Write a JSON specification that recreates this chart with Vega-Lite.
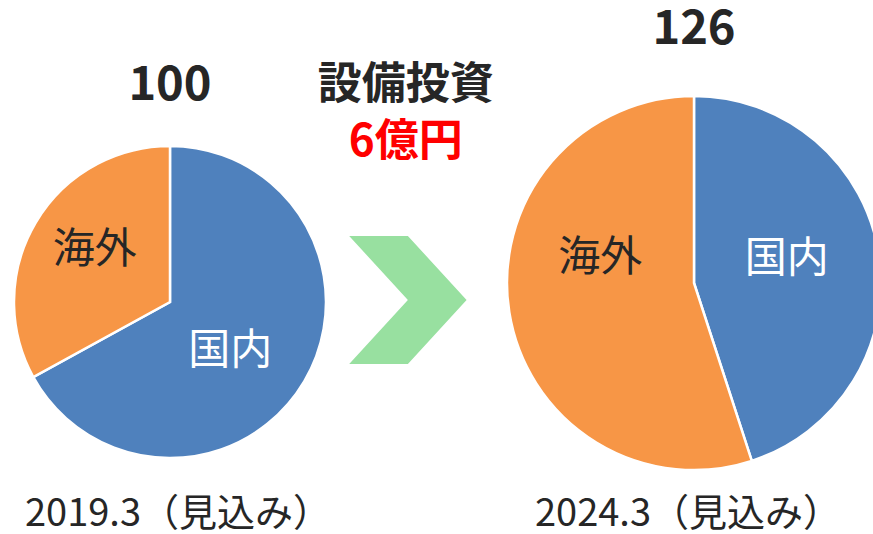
{
  "$schema": "https://vega.github.io/schema/vega-lite/v6.json",
  "width": 873,
  "height": 534,
  "autosize": {"type": "none"},
  "padding": 0,
  "background": "white",
  "config": {"view": {"stroke": null}, "font": "Noto Sans CJK JP"},
  "datasets": {
    "slices": [
      {"fy": 2019.3, "total": 100, "region": "国内", "share": 67},
      {"fy": 2019.3, "total": 100, "region": "海外", "share": 33},
      {"fy": 2024.3, "total": 126, "region": "国内", "share": 45},
      {"fy": 2024.3, "total": 126, "region": "海外", "share": 55}
    ],
    "totals": [
      {"fy": 2019.3, "total": 100, "period": "2019.3（見込み）"},
      {"fy": 2024.3, "total": 126, "period": "2024.3（見込み）"}
    ],
    "invest": [
      {"item": "設備投資", "amount": "6億円"}
    ]
  },
  "layer": [
    {
      "data": {"name": "slices"},
      "encoding": {
        "x": {"field": "fy", "type": "quantitative", "scale": {"domain": [2017.678, 2026.008], "nice": false, "zero": false}, "axis": null},
        "y": {"field": "total", "type": "quantitative", "scale": {"domain": [100, 126], "range": [302, 283], "nice": false, "zero": false}, "axis": null},
        "theta": {"field": "share", "type": "quantitative", "stack": true, "scale": {"domain": [0, 100]}},
        "order": {"field": "region", "type": "ordinal", "sort": "ascending"}
      },
      "layer": [
        {
          "transform": [{"filter": "datum.total === 100"}],
          "mark": {"type": "arc", "stroke": "white", "strokeWidth": 2.5},
          "encoding": {
            "radius": {"field": "total", "type": "quantitative", "scale": {"type": "linear", "domain": [100, 126], "range": [156, 187], "zero": false, "nice": false}},
            "radius2": {"value": 0},
            "color": {"field": "region", "type": "nominal", "scale": {"domain": ["国内", "海外"], "range": ["#4F81BD", "#F79646"]}, "legend": null}
          }
        },
        {
          "transform": [{"filter": "datum.total === 126"}],
          "mark": {"type": "arc", "stroke": "white", "strokeWidth": 2.5},
          "encoding": {
            "radius": {"field": "total", "type": "quantitative", "scale": {"type": "linear", "domain": [100, 126], "range": [156, 187], "zero": false, "nice": false}},
            "radius2": {"value": 0},
            "color": {"field": "region", "type": "nominal", "scale": {"domain": ["国内", "海外"], "range": ["#4F81BD", "#F79646"]}, "legend": null}
          }
        },
        {
          "transform": [{"filter": "datum.total === 100"}],
          "mark": {"type": "text", "radius": 84, "fontSize": 42, "baseline": "middle", "align": "center",
                   "dx": {"expr": "datum.region === '国内' ? -12 : -3"},
                   "dy": {"expr": "datum.region === '国内' ? 6 : -9"}},
          "encoding": {
            "text": {"field": "region"},
            "color": {"condition": {"test": "datum.region === '国内'", "value": "#FFFFFF"}, "value": "#262626"}
          }
        },
        {
          "transform": [{"filter": "datum.total === 126"}],
          "mark": {"type": "text", "radius": 96, "fontSize": 42, "baseline": "middle", "align": "center",
                   "dx": {"expr": "datum.region === '国内' ? -2 : 1"},
                   "dy": {"expr": "datum.region === '国内' ? -9 : -40"}},
          "encoding": {
            "text": {"field": "region"},
            "color": {"condition": {"test": "datum.region === '国内'", "value": "#FFFFFF"}, "value": "#262626"}
          }
        }
      ]
    },
    {
      "layer": [
        {
          "data": {"name": "totals"},
          "mark": {"type": "text", "fontSize": 47, "fontWeight": "bold", "color": "#262626", "baseline": "middle", "align": "center"},
          "encoding": {
            "x": {"field": "fy", "type": "quantitative", "scale": {"domain": [2017.678, 2026.008], "nice": false, "zero": false}, "axis": null},
            "y": {"field": "total", "type": "quantitative", "scale": {"domain": [-109.35, 140.19], "nice": false, "zero": false}, "axis": null},
            "text": {"field": "total", "type": "quantitative"}
          }
        },
        {
          "data": {"name": "totals"},
          "mark": {"type": "text", "fontSize": 38, "color": "#262626", "baseline": "alphabetic", "align": "center",
                   "dx": {"expr": "datum.total === 100 ? 8 : -6"}},
          "encoding": {
            "x": {"field": "fy", "type": "quantitative", "scale": {"domain": [2017.678, 2026.008], "nice": false, "zero": false}, "axis": null},
            "y": {"datum": -105.5, "type": "quantitative", "scale": {"domain": [-109.35, 140.19], "nice": false, "zero": false}, "axis": null},
            "text": {"field": "period"}
          }
        },
        {
          "data": {"name": "invest"},
          "mark": {"type": "text", "fontSize": 44, "fontWeight": "bold", "color": "#262626", "baseline": "middle", "align": "center"},
          "encoding": {
            "x": {"datum": 2021.55, "type": "quantitative", "scale": {"domain": [2017.678, 2026.008], "nice": false, "zero": false}, "axis": null},
            "y": {"datum": 100, "type": "quantitative", "scale": {"domain": [-109.35, 140.19], "nice": false, "zero": false}, "axis": null},
            "text": {"field": "item"}
          }
        },
        {
          "data": {"name": "invest"},
          "mark": {"type": "text", "fontSize": 44, "fontWeight": "bold", "color": "#FF0000", "baseline": "middle", "align": "center", "dy": 57},
          "encoding": {
            "x": {"datum": 2021.55, "type": "quantitative", "scale": {"domain": [2017.678, 2026.008], "nice": false, "zero": false}, "axis": null},
            "y": {"datum": 100, "type": "quantitative", "scale": {"domain": [-109.35, 140.19], "nice": false, "zero": false}, "axis": null},
            "text": {"field": "amount"}
          }
        },
        {
          "data": {"name": "invest"},
          "mark": {"type": "point", "filled": true, "shape": "M-0.917,-1L0,-1L0.917,0L0,1L-0.917,1L0,0Z", "size": 16384, "color": "#98E0A0", "opacity": 1, "strokeWidth": 0},
          "encoding": {
            "x": {"datum": 2021.57, "type": "quantitative", "scale": {"domain": [2017.678, 2026.008], "nice": false, "zero": false}, "axis": null},
            "y": {"datum": 0, "type": "quantitative", "scale": {"domain": [-109.35, 140.19], "nice": false, "zero": false}, "axis": null}
          }
        }
      ]
    }
  ],
  "resolve": {"scale": {"y": "independent"}}
}
